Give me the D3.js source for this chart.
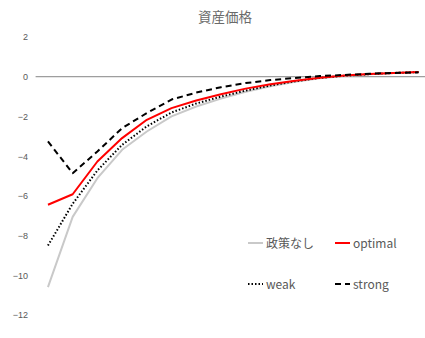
<!DOCTYPE html>
<html>
<head>
<meta charset="utf-8">
<script src="https://cdn.jsdelivr.net/npm/d3@7"></script>
<style>
  html, body { margin: 0; padding: 0; background: #fff; }
  svg { display: block; font-family: "Noto Sans CJK JP", "Noto Sans", sans-serif; }
</style>
</head>
<body>
<svg id="chart" width="425" height="338"></svg>
<script>
// Impulse response of the asset price under four policy regimes
const periods = d3.range(16);
const noPolicy = [-10.6, -7.06, -5.11, -3.68, -2.76, -2.0, -1.5, -1.1, -0.76, -0.48, -0.26, -0.08, 0.04, 0.13, 0.19, 0.23];
const optimal  = [-6.45, -5.92, -4.27, -3.09, -2.17, -1.58, -1.2, -0.88, -0.6, -0.38, -0.2, -0.05, 0.06, 0.14, 0.19, 0.24];
const weak     = [-8.5, -6.4, -4.72, -3.43, -2.5, -1.8, -1.35, -1.0, -0.7, -0.44, -0.23, -0.06, 0.05, 0.13, 0.19, 0.23];
const strong   = [-3.26, -4.86, -3.77, -2.59, -1.83, -1.15, -0.8, -0.53, -0.32, -0.17, -0.06, 0.03, 0.09, 0.15, 0.19, 0.22];
const yTicks = [2, 0, -2, -4, -6, -8, -10, -12];

const series = [
  { name: "政策なし", values: noPolicy, color: "#c9c9c9", dash: null,  width: 2 },
  { name: "optimal",  values: optimal,  color: "#ff0000", dash: null,  width: 2 },
  { name: "weak",     values: weak,     color: "#000000", dash: "1.5,2", width: 2 },
  { name: "strong",   values: strong,   color: "#000000", dash: "6,4", width: 2 }
];

const svg = d3.select("#chart");
const x = d3.scaleBand().domain(periods).range([35.6, 431]);
const y = d3.scaleLinear().domain([-12, 2]).range([315, 37]);

// title
svg.append("text")
  .attr("x", 225).attr("y", 22)
  .attr("text-anchor", "middle")
  .attr("font-size", 13.5)
  .attr("fill", "#6a6a6a")
  .text("資産価格");

// value axis labels (no axis line)
const yAxis = svg.append("g").attr("transform", "translate(28,0)")
  .call(d3.axisLeft(y).tickValues(yTicks).tickSize(0).tickPadding(0));
yAxis.select(".domain").remove();
yAxis.selectAll("text")
  .attr("fill", "#595959")
  .attr("font-size", 9)
  .attr("font-family", "'Liberation Sans', sans-serif");

// category axis drawn at zero
svg.append("line")
  .attr("x1", 35.6).attr("x2", 431)
  .attr("y1", y(0)).attr("y2", y(0))
  .attr("stroke", "#868686").attr("stroke-width", 1);

const line = d3.line()
  .x((d, i) => x(periods[i]) + x.bandwidth() / 2)
  .y(d => y(d));

const order = [series[0], series[2], series[1], series[3]];
svg.append("g").selectAll("path").data(order).join("path")
  .attr("d", d => line(d.values))
  .attr("fill", "none")
  .attr("stroke", d => d.color)
  .attr("stroke-width", d => d.width)
  .attr("stroke-dasharray", d => d.dash)
  .attr("stroke-linejoin", "round");

// legend, two columns by two rows
const legendPos = [[248, 243], [335, 243], [248, 284], [335, 284]];
const lg = svg.append("g").selectAll("g").data(series).join("g")
  .attr("transform", (d, i) => `translate(${legendPos[i][0]},${legendPos[i][1]})`);
lg.append("line")
  .attr("x1", 0).attr("x2", 15).attr("y1", 0).attr("y2", 0)
  .attr("stroke", d => d.color)
  .attr("stroke-width", d => d.width)
  .attr("stroke-dasharray", d => d.dash);
lg.append("text")
  .attr("x", 18).attr("y", 4.5)
  .attr("font-size", 12)
  .attr("fill", "#595959")
  .text(d => d.name);
</script>
</body>
</html>
